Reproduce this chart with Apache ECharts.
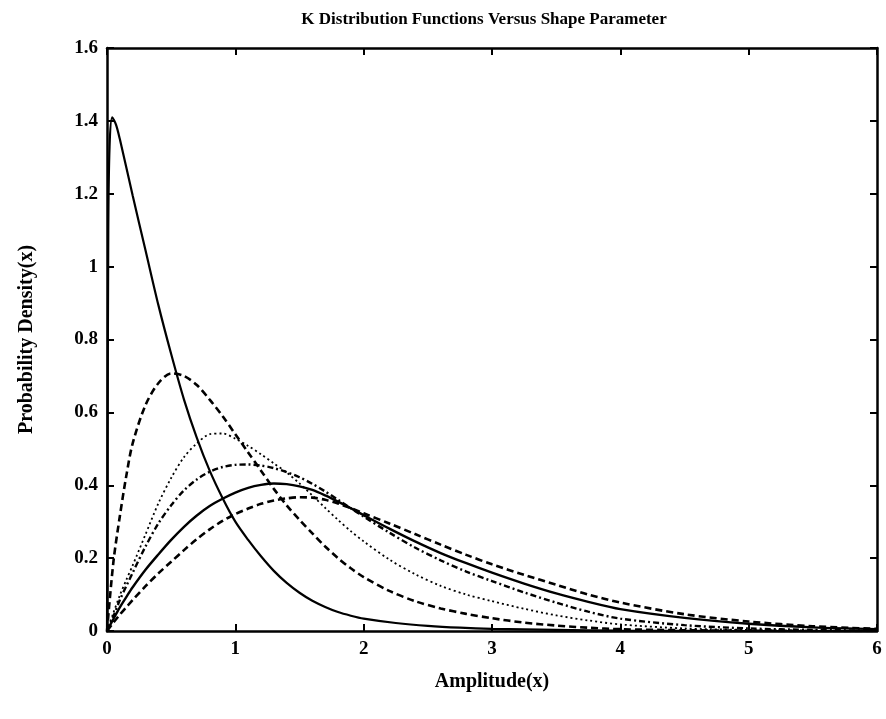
<!DOCTYPE html>
<html>
<head>
<meta charset="utf-8">
<script src="https://cdn.jsdelivr.net/npm/echarts@6/dist/echarts.min.js"></script>
<style>html,body{margin:0;padding:0;background:#fff}#c{width:886px;height:719px}</style>
</head>
<body>
<div id="c"></div>
<script>
// ---- data ----
var titleText = 'K Distribution Functions Versus Shape Parameter';
var xName = 'Amplitude(x)';
var yName = 'Probability Density(x)';
var xTicks = [0, 1, 2, 3, 4, 5, 6];
var yTicks = [0, 0.2, 0.4, 0.6, 0.8, 1, 1.2, 1.4, 1.6];

// tall solid curve (own x grid, dense near zero)
var xA = [0, 0.01, 0.02, 0.04, 0.07, 0.1, 0.2, 0.3, 0.4, 0.5, 0.6, 0.7, 0.8, 0.9, 1.0, 1.1, 1.2, 1.3, 1.4, 1.5, 1.6, 1.7, 1.8, 1.9, 2.0, 2.25, 2.5, 2.75, 3.0, 3.5, 4.0, 5.0, 6.0];
var yA = [0, 1.10, 1.33, 1.41, 1.39, 1.35, 1.195, 1.045, 0.895, 0.76, 0.635, 0.53, 0.44, 0.365, 0.30, 0.25, 0.205, 0.165, 0.132, 0.105, 0.083, 0.066, 0.052, 0.042, 0.034, 0.022, 0.014, 0.009, 0.006, 0.003, 0.001, 0, 0];

// common x grid for the other curves
var xs = [0, 0.05, 0.1, 0.15, 0.2, 0.3, 0.4, 0.5, 0.6, 0.7, 0.8, 0.9, 1.0, 1.1, 1.2, 1.3, 1.4, 1.5, 1.6, 1.7, 1.8, 1.9, 2.0, 2.2, 2.4, 2.6, 2.8, 3.0, 3.25, 3.5, 3.75, 4.0, 4.5, 5.0, 5.5, 6.0];
var yB = [0, 0.19, 0.315, 0.425, 0.515, 0.62, 0.68, 0.707, 0.70, 0.675, 0.635, 0.59, 0.54, 0.49, 0.44, 0.39, 0.345, 0.305, 0.268, 0.232, 0.20, 0.172, 0.148, 0.11, 0.082, 0.062, 0.047, 0.035, 0.023, 0.015, 0.009, 0.005, 0.002, 0.001, 0, 0];
var yC = [0, 0.05, 0.098, 0.14, 0.18, 0.265, 0.35, 0.42, 0.477, 0.515, 0.54, 0.542, 0.528, 0.508, 0.485, 0.46, 0.435, 0.405, 0.372, 0.338, 0.305, 0.274, 0.246, 0.196, 0.156, 0.124, 0.10, 0.082, 0.061, 0.043, 0.029, 0.018, 0.007, 0.003, 0.001, 0];
var yD = [0, 0.04, 0.085, 0.123, 0.16, 0.232, 0.295, 0.345, 0.386, 0.416, 0.437, 0.45, 0.456, 0.457, 0.454, 0.447, 0.436, 0.422, 0.404, 0.383, 0.36, 0.337, 0.314, 0.27, 0.229, 0.194, 0.163, 0.137, 0.106, 0.078, 0.053, 0.034, 0.016, 0.007, 0.003, 0.001];
var yE = [0, 0.033, 0.065, 0.093, 0.12, 0.168, 0.21, 0.25, 0.286, 0.317, 0.343, 0.363, 0.38, 0.393, 0.401, 0.405, 0.403, 0.397, 0.387, 0.372, 0.355, 0.337, 0.318, 0.281, 0.246, 0.214, 0.186, 0.16, 0.13, 0.103, 0.08, 0.06, 0.036, 0.02, 0.01, 0.005];
var yF = [0, 0.023, 0.045, 0.065, 0.085, 0.123, 0.158, 0.19, 0.222, 0.252, 0.279, 0.302, 0.321, 0.336, 0.349, 0.358, 0.364, 0.367, 0.366, 0.36, 0.35, 0.337, 0.323, 0.295, 0.266, 0.237, 0.209, 0.183, 0.154, 0.127, 0.10, 0.078, 0.046, 0.026, 0.013, 0.006];

function pairs(x, y) { return x.map(function (v, i) { return [v, y[i]]; }); }

var serif = 'Liberation Serif';
var chart = echarts.init(document.getElementById('c'), null, { renderer: 'canvas' });

var tickStyle = { show: true, inside: true, length: 7, lineStyle: { color: '#000', width: 2 } };
var lineAx = { show: true, onZero: false, lineStyle: { color: '#000', width: 2.5 } };
var lblStyle = { color: '#000', fontFamily: serif, fontSize: 19, fontWeight: 'bold' };
var nameStyle = { color: '#000', fontFamily: serif, fontSize: 20, fontWeight: 'bold' };

function mkLine(data, type, width) {
  return {
    type: 'line', data: data, showSymbol: false, smooth: 0.3,
    xAxisIndex: 0, yAxisIndex: 0, animation: false,
    lineStyle: { color: '#000', width: width, type: type, cap: 'butt' }
  };
}

chart.setOption({
  animation: false,
  backgroundColor: '#fff',
  title: {
    text: titleText, left: 479, top: 6, textAlign: 'center',
    textStyle: { color: '#000', fontFamily: serif, fontSize: 17, fontWeight: 'bold' }
  },
  grid: { left: 107, right: 9, top: 48, bottom: 88, containLabel: false },
  xAxis: [
    { type: 'value', min: 0, max: 6, interval: 1, position: 'bottom',
      name: xName, nameLocation: 'middle', nameGap: 41, nameTextStyle: nameStyle,
      axisLine: lineAx, axisTick: tickStyle, splitLine: { show: false },
      axisLabel: Object.assign({ margin: 9 }, lblStyle) },
    { type: 'value', min: 0, max: 6, interval: 1, position: 'top',
      axisLine: lineAx, axisTick: tickStyle, splitLine: { show: false },
      axisLabel: { show: false } }
  ],
  yAxis: [
    { type: 'value', min: 0, max: 1.6, interval: 0.2, position: 'left',
      name: yName, nameLocation: 'middle', nameGap: 70, nameRotate: 90, nameTextStyle: nameStyle,
      axisLine: lineAx, axisTick: tickStyle, splitLine: { show: false },
      axisLabel: Object.assign({ margin: 9, formatter: function (v) { return String(+v.toFixed(1)); } }, lblStyle) },
    { type: 'value', min: 0, max: 1.6, interval: 0.2, position: 'right',
      axisLine: lineAx, axisTick: tickStyle, splitLine: { show: false },
      axisLabel: { show: false } }
  ],
  series: [
    mkLine(pairs(xA, yA), 'solid', 2.2),
    mkLine(pairs(xs, yB), [7, 4], 2.6),
    mkLine(pairs(xs, yC), [2, 3], 1.8),
    mkLine(pairs(xs, yD), [6, 3, 2, 3], 2.4),
    mkLine(pairs(xs, yE), 'solid', 2.4),
    mkLine(pairs(xs, yF), [7, 4], 2.6)
  ]
});
</script>
</body>
</html>
